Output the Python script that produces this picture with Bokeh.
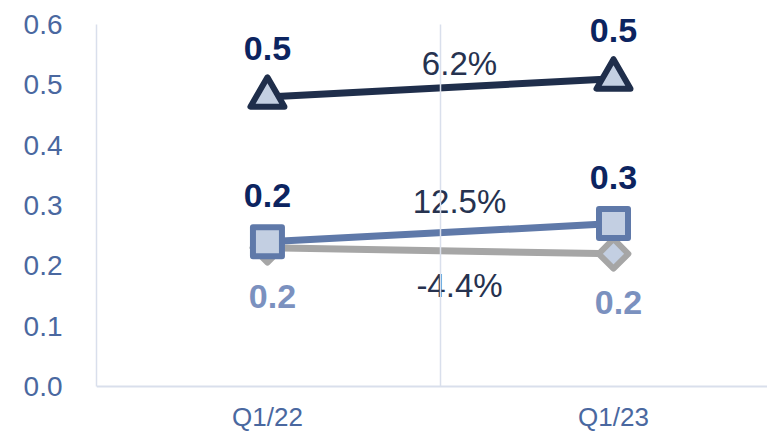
import math
from bokeh.plotting import figure
from bokeh.models import Range1d, FixedTicker, LinearAxis, ColumnDataSource
from bokeh.core.properties import value
from bokeh.embed import file_html
from bokeh.resources import INLINE

quarters = ["Q1/22", "Q1/23"]
y_ticks = [0.0, 0.1, 0.2, 0.3, 0.4, 0.5, 0.6]
series_triangle = [0.48, 0.51]
series_square = [0.24, 0.27]
series_diamond = [0.23, 0.22]
changes = ["6.2%", "12.5%", "-4.4%"]

FONT = "Liberation Sans"
xs = list(range(len(quarters)))
mid = (xs[0] + xs[-1]) / 2

p = figure(width=767, height=432, output_backend="svg", toolbar_location=None,
           x_range=Range1d(-0.494, 1.445), y_range=Range1d(-0.0762, 0.6398),
           min_border_left=96, min_border_top=0, min_border_bottom=0, min_border_right=0)
p.outline_line_color = None
p.grid.visible = False

# y axis
yax = p.yaxis[0]
yax.ticker = FixedTicker(ticks=y_ticks)
yax.major_label_overrides = {t: f"{t:.1f}" for t in y_ticks}
yax.bounds = (0, 0.6)
yax.axis_line_color = "#d9dfec"
yax.axis_line_width = 1.5
yax.major_tick_line_color = None
yax.minor_tick_line_color = None
yax.major_label_text_font = FONT
yax.major_label_text_font_size = "28px"
yax.major_label_text_color = "#4a68a0"
yax.major_label_standoff = 28

# x axis
xax = p.xaxis[0]
xax.fixed_location = 0
xax.ticker = FixedTicker(ticks=xs)
xax.major_label_overrides = {i: q for i, q in zip(xs, quarters)}
xax.axis_line_color = "#d9dfec"
xax.axis_line_width = 2
xax.major_tick_line_color = None
xax.minor_tick_line_color = None
xax.major_label_text_font = FONT
xax.major_label_text_font_size = "26px"
xax.major_label_text_color = "#4a68a0"
xax.major_label_standoff = 9

# divider between categories
div = LinearAxis(fixed_location=mid, bounds=(0, 0.6), ticker=FixedTicker(ticks=[]),
                 axis_line_color="#d9dfec", axis_line_width=1.5,
                 major_tick_line_color=None, minor_tick_line_color=None,
                 major_label_text_font_size="0px")
p.add_layout(div, "left")

# series
p.line(xs, series_diamond, line_color="#a6a6a6", line_width=7)
p.scatter(xs, series_diamond, marker="square", angle=math.pi / 4, size=21,
          fill_color="#c3cfe2", line_color="#a6a6a6", line_width=6, line_join="round")

p.line(xs, series_square, line_color="#5f79a9", line_width=7)
p.scatter(xs, series_square, marker="square", size=29,
          fill_color="#c3cfe2", line_color="#5f79a9", line_width=6, line_join="round")

p.line(xs, series_triangle, line_color="#1f2e4b", line_width=7)
p.scatter(xs, series_triangle, marker="triangle", size=34,
          fill_color="#c3cfe2", line_color="#1f2e4b", line_width=6, line_join="round")

def fmt(v):
    return f"{v:.1f}"

lab_kw = dict(text_font=value(FONT), text_font_style="bold", text_align="center",
              text_baseline="middle", text_font_size="34px")
p.text(xs, series_triangle, text=[fmt(v) for v in series_triangle], y_offset=-48,
       text_color="#0c2460", **lab_kw)
p.text(xs, series_square, text=[fmt(v) for v in series_square], y_offset=-46,
       text_color="#0c2460", **lab_kw)
p.text(xs, series_diamond, text=[fmt(v) for v in series_diamond], y_offset=49, x_offset=5,
       text_color="#7b91bf", **lab_kw)

mids = [(s[0] + s[-1]) / 2 for s in (series_triangle, series_square, series_diamond)]
pct_src = ColumnDataSource(dict(x=[mid] * 3, y=mids, text=changes, dy=[-24, -31, 35]))
p.text("x", "y", text="text", source=pct_src, y_offset="dy", x_offset=19,
       text_font=value(FONT), text_align="center", text_baseline="middle",
       text_font_size="33px", text_color="#26324f")

open("out.html", "w").write(file_html(p, INLINE))
